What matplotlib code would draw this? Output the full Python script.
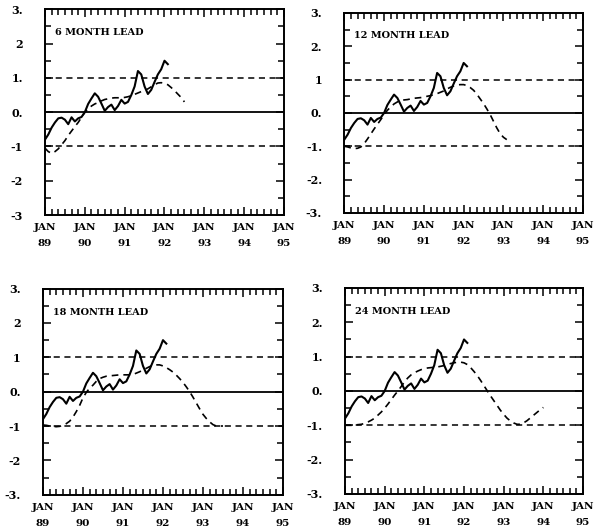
import matplotlib
matplotlib.use("Agg")
import matplotlib.pyplot as plt
from matplotlib.ticker import MultipleLocator, FixedLocator

# ---- data (month index 0 = JAN 89) ----
observed = [-0.8, -0.65, -0.45, -0.3, -0.18, -0.16, -0.22, -0.35, -0.15, -0.27,
            -0.18, -0.14, 0.0, 0.24, 0.4, 0.55, 0.45, 0.25, 0.04, 0.15,
            0.22, 0.06, 0.18, 0.36, 0.25, 0.3, 0.5, 0.75, 1.2, 1.1,
            0.75, 0.53, 0.65, 0.88, 1.1, 1.25, 1.5, 1.4]

fc_6 = [-1.05, -1.15, -1.2, -1.15, -1.07, -0.95, -0.83, -0.68, -0.55, -0.42,
        -0.3, -0.15, 0.0, 0.1, 0.18, 0.24, 0.28, 0.33, 0.37, 0.39,
        0.41, 0.42, 0.42, 0.42, 0.43, 0.45, 0.48, 0.52, 0.56, 0.6,
        0.64, 0.68, 0.74, 0.8, 0.85, 0.86, 0.84, 0.8, 0.72, 0.63,
        0.53, 0.43, 0.3]

fc_12 = [-1.0, -1.02, -1.05, -1.07, -1.06, -1.02, -0.92, -0.78, -0.63, -0.48,
         -0.34, -0.2, -0.05, 0.08, 0.18, 0.27, 0.33, 0.37, 0.39, 0.4,
         0.42, 0.44, 0.45, 0.46, 0.48, 0.5, 0.52, 0.55, 0.58, 0.62,
         0.66, 0.72, 0.77, 0.81, 0.84, 0.85, 0.85, 0.82, 0.76, 0.68,
         0.56, 0.42, 0.28, 0.12, -0.05, -0.25, -0.45, -0.62, -0.73, -0.8]

fc_18 = [-0.97, -0.98, -1.0, -1.01, -1.02, -1.01, -0.98, -0.93, -0.86, -0.74,
         -0.58, -0.4, -0.18, -0.02, 0.1, 0.19, 0.3, 0.38, 0.42, 0.45,
         0.46, 0.47, 0.48, 0.49, 0.49, 0.49, 0.49, 0.5, 0.54, 0.58,
         0.63, 0.68, 0.73, 0.77, 0.78, 0.78, 0.75, 0.7, 0.64, 0.57,
         0.48, 0.38, 0.27, 0.14, 0.0, -0.16, -0.33, -0.5, -0.66, -0.78,
         -0.88, -0.96, -1.0, -1.0, -1.0]

fc_24 = [-1.0, -1.0, -1.0, -0.99, -0.98, -0.97, -0.94, -0.9, -0.85, -0.79,
         -0.7, -0.61, -0.5, -0.38, -0.25, -0.12, 0.0, 0.13, 0.27, 0.38,
         0.47, 0.53, 0.58, 0.62, 0.65, 0.67, 0.68, 0.69, 0.7, 0.72,
         0.74, 0.77, 0.8, 0.82, 0.84, 0.84, 0.82, 0.77, 0.68, 0.57,
         0.45, 0.31, 0.16, 0.01, -0.14, -0.28, -0.42, -0.56, -0.68, -0.79,
         -0.87, -0.93, -0.97, -0.97, -0.93, -0.87, -0.79, -0.71, -0.63, -0.55,
         -0.48]

titles = ["6 MONTH LEAD", "12 MONTH LEAD", "18 MONTH LEAD", "24 MONTH LEAD"]
forecasts = [fc_6, fc_12, fc_18, fc_24]
x_tick_labels = ["JAN\n89", "JAN\n90", "JAN\n91", "JAN\n92", "JAN\n93", "JAN\n94", "JAN\n95"]
y_ticks = [-3, -2, -1, 0, 1, 2, 3]
y_tick_labels = [
    ["-3", "-2", "-1", "0.", "1.", "2", "3."],
    ["-3.", "-2.", "-1.", "0.", "1", "2.", "3."],
    ["-3.", "-2", "-1", "0.", "1", "2", "3."],
    ["-3.", "-2.", "-1.", "0.", "1.", "2.", "3."],
]

# ---- layout ----
fig = plt.figure(figsize=(5.96, 5.31), dpi=100)
positions = [
    [0.0755, 0.595, 0.401, 0.3875],
    [0.5777, 0.599, 0.4005, 0.3766],
    [0.0721, 0.0684, 0.4027, 0.388],
    [0.5789, 0.0697, 0.3993, 0.388],
]
font = dict(family="DejaVu Serif", weight="bold")

for i in range(4):
    ax = fig.add_axes(positions[i])
    ax.set_xlim(0, 72)
    ax.set_ylim(-3, 3)
    ax.axhline(0, color="black", lw=1.3)
    ax.axhline(1, color="black", lw=1.1, ls=(0, (4, 3)))
    ax.axhline(-1, color="black", lw=1.1, ls=(0, (4, 3)))
    ax.plot(range(len(observed)), observed, color="black", lw=1.5, solid_joinstyle="round")
    fc = forecasts[i]
    ax.plot(range(len(fc)), fc, color="black", lw=1.2, ls=(0, (4, 3)))

    ax.xaxis.set_major_locator(FixedLocator(list(range(0, 73, 12))))
    ax.xaxis.set_minor_locator(MultipleLocator(2))
    ax.set_xticklabels(x_tick_labels, fontsize=7.5, linespacing=2.0, **font)
    ax.set_yticks(y_ticks)
    ax.set_yticklabels(y_tick_labels[i], fontsize=8, **font)
    ax.yaxis.set_minor_locator(MultipleLocator(0.5))
    ax.tick_params(which="both", direction="in", top=True, right=True, width=1.1)
    ax.tick_params(which="major", length=6)
    ax.tick_params(which="minor", length=4)
    ax.tick_params(axis="y", which="major", pad=16)
    ax.tick_params(axis="x", which="major", pad=6)
    for s in ax.spines.values():
        s.set_linewidth(1.4)
    ax.text(0.04, 0.885, titles[i], transform=ax.transAxes, fontsize=7, ha="left", va="center", **font)

fig.savefig("out.png", dpi=100)
